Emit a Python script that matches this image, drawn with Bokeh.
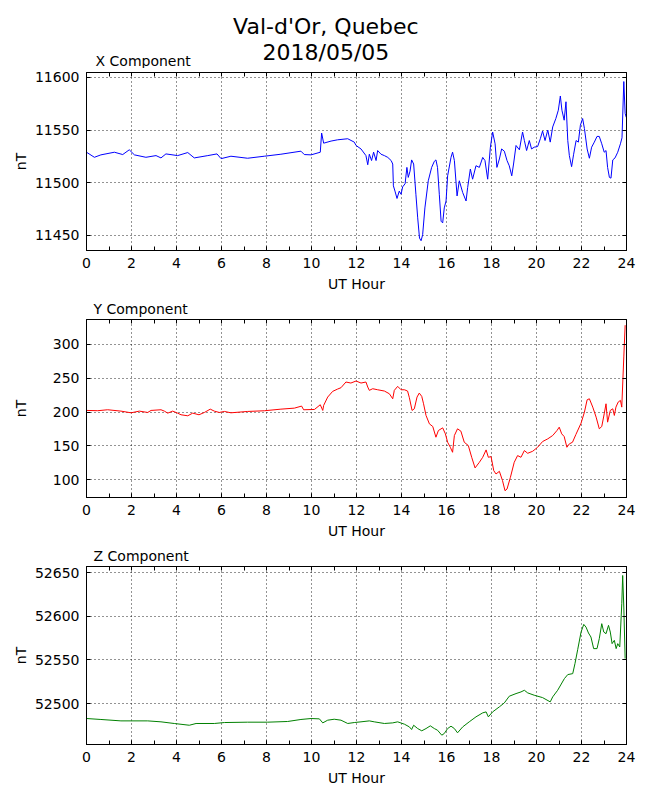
from bokeh.plotting import figure
from bokeh.layouts import column
from bokeh.models import Title, Label, LinearAxis, SingleIntervalTicker, FixedTicker, Range1d
from bokeh.embed import file_html
from bokeh.resources import INLINE

FONT = "DejaVu Sans"

MAIN_TITLE = ["Val-d'Or, Quebec", "2018/05/05"]
PANEL_TITLES = ["X Component", "Y Component", "Z Component"]
X_LABEL = "UT Hour"
Y_LABEL = "nT"

# ---- X component (nT) ----
X_HOURS = [
    0.00, 0.35, 0.64, 1.24, 1.61, 1.90, 2.13, 2.64, 3.09, 3.31,
    3.53, 4.05, 4.50, 4.79, 5.39, 5.80, 5.98, 6.42, 7.16, 7.90,
    8.64, 9.53, 9.68, 9.98, 10.39, 10.45, 10.54, 10.87, 11.16, 11.61,
    11.90, 11.98, 12.20, 12.42, 12.50, 12.57, 12.67, 12.76, 12.87, 12.94,
    13.09, 13.24, 13.39, 13.54, 13.61, 13.64, 13.71, 13.80, 13.90, 13.98,
    14.05, 14.16, 14.24, 14.30, 14.38, 14.45, 14.54, 14.64, 14.72, 14.80,
    14.87, 14.94, 15.04, 15.19, 15.34, 15.46, 15.53, 15.60, 15.68, 15.76,
    15.83, 15.90, 15.98, 16.05, 16.20, 16.27, 16.35, 16.47, 16.57, 16.72,
    16.87, 16.94, 17.06, 17.16, 17.31, 17.46, 17.61, 17.71, 17.83, 17.95,
    18.05, 18.16, 18.24, 18.35, 18.45, 18.57, 18.69, 18.79, 18.90, 18.98,
    19.09, 19.24, 19.38, 19.46, 19.56, 19.68, 19.78, 19.90, 20.05, 20.17,
    20.27, 20.38, 20.50, 20.61, 20.72, 20.86, 20.97, 21.06, 21.13, 21.23,
    21.31, 21.39, 21.46, 21.56, 21.65, 21.76, 21.86, 21.95, 22.05, 22.13,
    22.25, 22.35, 22.45, 22.57, 22.69, 22.79, 22.90, 23.01, 23.09, 23.16,
    23.24, 23.31, 23.39, 23.49, 23.61, 23.73, 23.80, 23.88, 23.94, 23.99,
]
X_VALUES = [
    11528.9, 11524.1, 11526.4, 11528.9, 11526.7, 11531.2, 11526.4, 11524.1, 11525.7, 11523.5,
    11527.3, 11525.7, 11528.6, 11523.5, 11525.7, 11527.3, 11522.8, 11525.1, 11523.2, 11525.1,
    11527.0, 11529.9, 11526.7, 11526.4, 11528.9, 11547.1, 11537.5, 11539.5, 11540.7, 11541.7,
    11538.5, 11535.3, 11532.0, 11525.7, 11517.0, 11527.0, 11521.0, 11529.0, 11521.0, 11530.5,
    11527.0, 11525.7, 11524.0, 11521.0, 11517.7, 11497.0, 11492.0, 11485.0, 11492.0, 11489.0,
    11496.0, 11499.0, 11514.5, 11505.0, 11511.0, 11521.6, 11517.7, 11489.0, 11466.6, 11447.4,
    11444.9, 11450.6, 11476.0, 11501.8, 11514.5, 11520.3, 11521.6, 11514.5, 11489.0, 11463.4,
    11461.8, 11476.0, 11482.6, 11506.5, 11524.0, 11529.0, 11521.0, 11487.4, 11501.8, 11490.6,
    11482.6, 11495.4, 11512.9, 11503.3, 11516.1, 11514.5, 11524.0, 11521.0, 11503.3, 11533.7,
    11548.1, 11536.9, 11514.5, 11522.5, 11532.0, 11529.9, 11521.0, 11516.0, 11506.5, 11517.7,
    11535.3, 11531.2, 11548.1, 11540.1, 11530.5, 11540.0, 11532.0, 11533.7, 11534.3, 11541.7,
    11549.0, 11540.0, 11550.0, 11538.5, 11552.9, 11560.9, 11568.8, 11582.3, 11568.8, 11559.3,
    11576.8, 11540.0, 11525.7, 11515.2, 11527.0, 11540.0, 11538.5, 11554.5, 11560.9, 11551.4,
    11532.0, 11523.2, 11533.7, 11538.5, 11543.9, 11543.9, 11536.9, 11528.9, 11530.5, 11514.5,
    11505.0, 11504.3, 11521.6, 11523.5, 11528.9, 11536.9, 11542.6, 11596.0, 11565.7, 11562.0,
]

# ---- Y component (nT) ----
Y_HOURS = [
    0.00, 0.50, 0.94, 1.53, 1.98, 2.35, 2.72, 2.87, 3.31, 3.46,
    3.61, 3.83, 4.05, 4.20, 4.50, 4.72, 5.00, 5.24, 5.50, 5.68,
    5.90, 6.13, 6.42, 7.16, 7.90, 8.64, 9.24, 9.56, 9.65, 10.13,
    10.39, 10.50, 10.54, 10.72, 10.94, 11.16, 11.31, 11.53, 11.75, 11.98,
    12.20, 12.42, 12.50, 12.57, 12.72, 12.94, 13.24, 13.46, 13.61, 13.68,
    13.83, 13.98, 14.13, 14.27, 14.35, 14.47, 14.57, 14.69, 14.79, 14.90,
    14.98, 15.09, 15.24, 15.39, 15.53, 15.64, 15.83, 15.95, 16.05, 16.17,
    16.27, 16.35, 16.49, 16.64, 16.79, 16.97, 17.12, 17.27, 17.46, 17.61,
    17.76, 17.86, 17.98, 18.10, 18.20, 18.35, 18.49, 18.60, 18.69, 18.84,
    19.01, 19.16, 19.31, 19.46, 19.61, 19.83, 20.05, 20.27, 20.50, 20.72,
    20.91, 21.01, 21.12, 21.23, 21.35, 21.46, 21.60, 21.75, 21.98, 22.13,
    22.25, 22.35, 22.50, 22.65, 22.79, 22.90, 23.01, 23.09, 23.16, 23.28,
    23.39, 23.46, 23.53, 23.63, 23.73, 23.79, 23.88, 23.94,
]
Y_VALUES = [
    202.4, 202.0, 203.4, 201.4, 198.9, 201.4, 199.4, 202.4, 203.4, 201.4,
    198.4, 201.4, 198.4, 196.0, 194.5, 198.4, 196.0, 199.4, 204.3, 201.4,
    199.4, 200.9, 198.9, 200.9, 201.9, 204.3, 205.8, 208.8, 203.4, 203.8,
    210.8, 202.4, 209.8, 222.1, 230.5, 233.9, 235.9, 244.3, 242.8, 245.8,
    242.8, 244.3, 236.9, 232.0, 234.4, 232.9, 231.0, 227.0, 219.6, 232.0,
    237.9, 232.9, 232.9, 231.0, 221.1, 202.4, 204.8, 222.1, 228.0, 223.1,
    212.2, 195.0, 182.6, 178.7, 162.9, 172.8, 176.7, 167.9, 155.5, 148.1,
    140.7, 165.4, 175.3, 171.8, 155.5, 150.6, 133.3, 117.6, 125.9, 133.3,
    144.2, 133.3, 134.3, 113.6, 108.7, 112.6, 98.8, 84.0, 86.5, 103.7,
    125.9, 135.8, 133.3, 143.2, 139.2, 142.2, 148.1, 156.5, 160.5, 165.4,
    172.8, 177.7, 167.9, 163.9, 148.1, 153.1, 155.5, 166.9, 183.6, 199.9,
    218.1, 219.6, 207.3, 192.5, 175.3, 178.7, 197.4, 212.2, 185.1, 202.4,
    204.8, 195.0, 207.3, 214.7, 217.2, 207.3, 281.3, 328.1,
]

# ---- Z component (nT) ----
Z_HOURS = [
    0.00, 0.64, 1.53, 2.72, 3.31, 3.90, 4.57, 4.87, 5.68, 6.13,
    7.16, 8.05, 8.94, 9.53, 9.98, 10.35, 10.50, 10.72, 11.01, 11.31,
    11.61, 11.90, 12.20, 12.57, 12.79, 13.24, 13.61, 13.83, 14.13, 14.35,
    14.45, 14.54, 14.72, 14.90, 15.09, 15.28, 15.46, 15.60, 15.79, 15.90,
    16.05, 16.20, 16.35, 16.49, 16.72, 17.01, 17.31, 17.61, 17.76, 17.86,
    18.05, 18.35, 18.57, 18.79, 19.09, 19.31, 19.46, 19.61, 19.90, 20.27,
    20.61, 20.72, 20.94, 21.24, 21.39, 21.61, 21.71, 21.83, 21.98, 22.10,
    22.20, 22.31, 22.42, 22.54, 22.69, 22.79, 22.90, 22.99, 23.09, 23.20,
    23.28, 23.36, 23.46, 23.54, 23.61, 23.70, 23.79, 23.83, 23.88, 23.94,
]
Z_VALUES = [
    52482.8, 52481.7, 52480.1, 52480.1, 52479.0, 52477.1, 52475.1, 52477.1, 52477.1, 52478.2,
    52478.6, 52478.6, 52479.4, 52481.7, 52482.8, 52482.4, 52477.8, 52480.9, 52482.0, 52480.9,
    52477.1, 52478.2, 52479.0, 52480.1, 52479.0, 52477.1, 52477.8, 52479.0, 52476.3, 52473.2,
    52470.2, 52475.1, 52471.3, 52468.7, 52471.3, 52474.4, 52471.3, 52469.4, 52463.7, 52465.6,
    52471.3, 52474.0, 52471.3, 52466.4, 52473.2, 52479.0, 52484.7, 52489.3, 52490.4, 52484.7,
    52490.4, 52496.2, 52500.7, 52508.4, 52511.4, 52513.3, 52515.2, 52512.2, 52509.5, 52506.8,
    52501.9, 52507.6, 52515.2, 52528.6, 52533.2, 52534.3, 52545.8, 52561.8, 52582.0, 52590.8,
    52587.7, 52580.9, 52576.3, 52563.0, 52563.0, 52574.4, 52591.6, 52582.0, 52580.1, 52589.7,
    52582.0, 52568.7, 52572.5, 52563.0, 52568.7, 52564.9, 52614.5, 52646.9, 52610.7, 52551.5,
]

X_RANGE = (0, 24)
Y_RANGES = [(11435.6, 11604.6), (74.0, 336.5), (52453.0, 52657.2)]
COLORS = ["#0000ff", "#ff0000", "#008000"]
X_STEP = 2
Y_STEP = 50

FIG_W = 650
FRAME_H = 178
BORDER_L = 86
BORDER_R = 24
BORDER_B = 45
HEAD_H = 68


def make_panel(hours, vals, color, name, yr, top, label_standoff):
    p = figure(width=FIG_W, height=top + FRAME_H + BORDER_B, output_backend="svg",
               toolbar_location=None, title=None,
               x_range=Range1d(*X_RANGE), y_range=Range1d(*yr),
               min_border_left=BORDER_L, min_border_right=BORDER_R,
               min_border_top=top, min_border_bottom=BORDER_B,
               background_fill_color="white", border_fill_color="white",
               outline_line_color="black", outline_line_width=1)
    p.line(hours, vals, line_color=color, line_width=1)

    bottom = p.xaxis[0]
    left = p.yaxis[0]

    xt = SingleIntervalTicker(interval=X_STEP, num_minor_ticks=2)
    yt = SingleIntervalTicker(interval=Y_STEP, num_minor_ticks=0)
    bottom.ticker = xt
    left.ticker = yt
    p.xgrid.ticker = xt
    p.ygrid.ticker = yt

    p.grid.grid_line_color = "black"
    p.grid.grid_line_dash = "1 3"
    p.grid.grid_line_width = 1
    p.grid.grid_line_alpha = 0.85

    # tick-only axes on the top and right edges (no labels)
    top_ticks = list(range(X_RANGE[0], X_RANGE[1] + 1))
    lo = int(yr[0] // Y_STEP + 1) * Y_STEP
    right_ticks = list(range(lo, int(yr[1]) + 1, Y_STEP))
    top_axis = LinearAxis(ticker=FixedTicker(ticks=[], minor_ticks=top_ticks),
                          major_label_standoff=0)
    right_axis = LinearAxis(ticker=FixedTicker(ticks=[], minor_ticks=right_ticks),
                            major_label_standoff=0)
    p.add_layout(top_axis, "above")
    p.add_layout(right_axis, "right")

    for ax in [bottom, left, top_axis, right_axis]:
        ax.major_tick_in = 4
        ax.major_tick_out = 0
        ax.minor_tick_in = 4
        ax.minor_tick_out = 0
        ax.axis_line_color = "black"
        ax.major_tick_line_color = "black"
        ax.minor_tick_line_color = "black"
        ax.major_label_text_color = "black"
        ax.major_label_text_font = FONT
        ax.major_label_text_font_size = "14px"
        ax.axis_label_text_color = "black"
        ax.axis_label_text_font = FONT
        ax.axis_label_text_font_style = "normal"
        ax.axis_label_text_font_size = "14px"

    bottom.axis_label = X_LABEL
    bottom.major_label_standoff = 7
    bottom.axis_label_standoff = 5
    left.axis_label = Y_LABEL
    left.major_label_standoff = 7
    left.axis_label_standoff = label_standoff

    if name is not None:
        p.add_layout(Title(text=name, align="left", offset=7, standoff=5,
                           text_font=FONT, text_font_size="14px",
                           text_font_style="normal", text_color="black"), "above")
    return p


# header strip: main title (two lines) and the first panel's caption,
# its frame shares the panels' hour axis
head = figure(width=FIG_W, height=HEAD_H, output_backend="svg", toolbar_location=None,
              title=None, x_range=Range1d(*X_RANGE), y_range=Range1d(0, HEAD_H),
              x_axis_type=None, y_axis_type=None,
              min_border_left=BORDER_L, min_border_right=BORDER_R,
              min_border_top=0, min_border_bottom=0,
              outline_line_color=None, background_fill_color="white",
              border_fill_color="white")
head.grid.visible = False
for text, y in zip(MAIN_TITLE, [HEAD_H - 26, HEAD_H - 52]):
    head.add_layout(Label(x=10.64, y=y, text=text, text_align="center",
                          text_baseline="middle", text_font=FONT,
                          text_font_size="22px", text_color="black"))
head.add_layout(Label(x=0.4, y=HEAD_H - 60, text=PANEL_TITLES[0], text_align="left",
                      text_baseline="middle", text_font=FONT,
                      text_font_size="14px", text_color="black"))

p1 = make_panel(X_HOURS, X_VALUES, COLORS[0], None, Y_RANGES[0], 4, 3)
p2 = make_panel(Y_HOURS, Y_VALUES, COLORS[1], PANEL_TITLES[1], Y_RANGES[1], 24, 21)
p3 = make_panel(Z_HOURS, Z_VALUES, COLORS[2], PANEL_TITLES[2], Y_RANGES[2], 24, 3)

layout = column(head, p1, p2, p3, spacing=0)
open("out.html", "w").write(file_html(layout, INLINE))
